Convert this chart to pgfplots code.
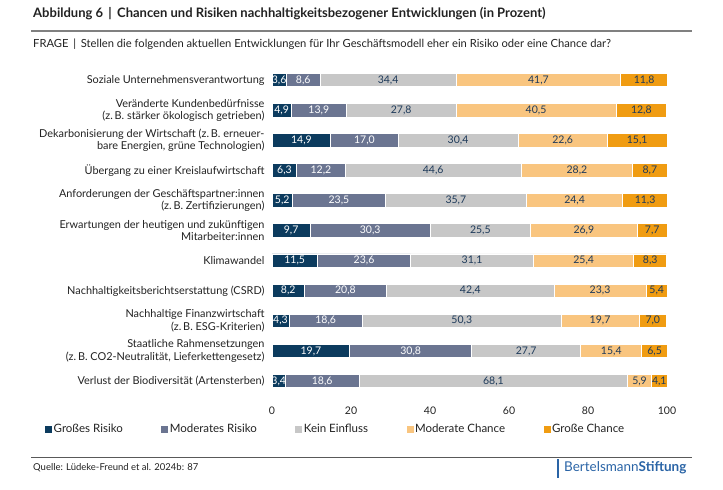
\documentclass[border=0pt]{standalone}
\usepackage{pgfplots}
\pgfplotsset{compat=1.18}
\usepackage{pgfplotstable}
\usepackage{fontspec}
\setmainfont{Lato}
\definecolor{cNavy}{HTML}{0C3B5E}
\definecolor{cSlate}{HTML}{6B7591}
\definecolor{cGray}{HTML}{C7C7C7}
\definecolor{cLOr}{HTML}{F9C57F}
\definecolor{cOr}{HTML}{F09C12}
\definecolor{cTxt}{HTML}{1E3A5A}
\definecolor{cLogo}{HTML}{2A64A6}
\definecolor{cDark}{HTML}{222222}
\pgfplotstableread{
idx gr mr ke mc gc
0 3.6 8.6 34.4 41.7 11.8
1 4.9 13.9 27.8 40.5 12.8
2 14.9 17.0 30.4 22.6 15.1
3 6.3 12.2 44.6 28.2 8.7
4 5.2 23.5 35.7 24.4 11.3
5 9.7 30.3 25.5 26.9 7.7
6 11.5 23.6 31.1 25.4 8.3
7 8.2 20.8 42.4 23.3 5.4
8 4.3 18.6 50.3 19.7 7.0
9 19.7 30.8 27.7 15.4 6.5
10 3.4 18.6 68.1 5.9 4.1
}\data
\pgfplotstablecreatecol[create col/expr={\thisrow{gr}/2}]{grm}\data
\pgfplotstablecreatecol[create col/expr={\thisrow{gr}+\thisrow{mr}/2}]{mrm}\data
\pgfplotstablecreatecol[create col/expr={\thisrow{gr}+\thisrow{mr}+\thisrow{ke}/2}]{kem}\data
\pgfplotstablecreatecol[create col/expr={\thisrow{gr}+\thisrow{mr}+\thisrow{ke}+\thisrow{mc}/2}]{mcm}\data
\pgfplotstablecreatecol[create col/expr={\thisrow{gr}+\thisrow{mr}+\thisrow{ke}+\thisrow{mc}+\thisrow{gc}/2}]{gcm}\data
\pgfplotsset{
  common/.style={
    at={(272pt,-62pt)}, anchor=north west,
    x=3.95pt, y=30.1pt, y dir=reverse,
    xmin=0, xmax=100, ymin=-0.6, ymax=10.6, clip=false,
    /pgf/number format/assume math mode=true},
  lbl/.style={draw=none, mark=none, point meta=explicit,
    nodes near coords={\pgfmathprintnumber[use comma,fixed,fixed zerofill,precision=1,assume math mode=true]{\pgfplotspointmeta}},
    every node near coord/.append style={anchor=center, inner sep=0pt, font=\fontsize{10.5}{12}\selectfont, text=#1}},
}
\begin{document}
\begin{tikzpicture}
\path[use as bounding box] (0pt,0pt) rectangle (723pt,-490pt);
\node[anchor=west, inner sep=0pt, text=cDark, font=\bfseries\fontsize{13}{15}\selectfont] at (33pt,-14pt) {Abbildung 6 \,|\, Chancen und Risiken nachhaltigkeitsbezogener Entwicklungen (in Prozent)};
\draw[line width=2pt, color=black!50] (31pt,-31pt) -- (692pt,-31pt);
\node[anchor=west, inner sep=0pt, text=cDark, font=\fontsize{11.2}{12.5}\selectfont] at (33pt,-44pt) {FRAGE \,|\, Stellen die folgenden aktuellen Entwicklungen für Ihr Geschäftsmodell eher ein Risiko oder eine Chance dar?};
\draw[line width=1pt, color=black!65] (31pt,-457pt) -- (692pt,-457pt);
\node[anchor=west, inner sep=0pt, text=cDark, font=\fontsize{9.5}{11}\selectfont] at (33pt,-468pt) {Quelle: Lüdeke-Freund et al. 2024b: 87};
\draw[line width=1.2pt, color=cLogo] (558pt,-459pt) -- (558pt,-478pt);
\node[anchor=west, inner sep=0pt, text=cLogo, font=\fontsize{13.5}{15}\selectfont] at (564pt,-468pt) {Bertelsmann\textbf{Stiftung}};
\begin{axis}[
  common,
  xbar stacked, bar width=13.5pt,
  axis line style={draw=none}, major tick length=0pt,
  xtick={0,20,40,60,80,100},
  ytick={0,1,2,3,4,5,6,7,8,9,10},
  yticklabels={
    Soziale Unternehmensverantwortung,
    {Veränderte Kundenbedürfnisse\\(z.\,B. stärker ökologisch getrieben)},
    {Dekarbonisierung der Wirtschaft (z.\,B. erneuer-\\bare Energien, grüne Technologien)},
    Übergang zu einer Kreislaufwirtschaft,
    {Anforderungen der Geschäftspartner:innen\\(z.\,B. Zertifizierungen)},
    {Erwartungen der heutigen und zukünftigen\\Mitarbeiter:innen},
    Klimawandel,
    Nachhaltigkeitsberichtserstattung (CSRD),
    {Nachhaltige Finanzwirtschaft\\(z.\,B. ESG-Kriterien)},
    {Staatliche Rahmensetzungen\\(z.\,B. CO2-Neutralität, Lieferkettengesetz)},
    Verlust der Biodiversität (Artensterben)},
  yticklabel style={align=right, text=cDark, font=\fontsize{10.9}{12.2}\selectfont, xshift=-4pt},
  xticklabel style={text=cDark, font=\fontsize{10.5}{12}\selectfont, yshift=-4pt},
  legend columns=5,
  legend style={at={(-0.5823,-0.089)}, anchor=west, draw=none, fill=none, font=\fontsize{11.5}{12}\selectfont, text=cDark,
    nodes={inner sep=1.5pt},
    /tikz/every even column/.append style={column sep=37pt}},
  legend cell align=left,
  legend image code/.code={\fill[#1,draw=none] (0pt,-3.5pt) rectangle (7pt,3.5pt);},
]
\addplot[fill=cNavy, draw=white, line width=0.8pt] table[x=gr, y=idx] {\data};
\addplot[fill=cSlate, draw=white, line width=0.8pt] table[x=mr, y=idx] {\data};
\addplot[fill=cGray, draw=white, line width=0.8pt] table[x=ke, y=idx] {\data};
\addplot[fill=cLOr, draw=white, line width=0.8pt] table[x=mc, y=idx] {\data};
\addplot[fill=cOr, draw=white, line width=0.8pt] table[x=gc, y=idx] {\data};
\legend{Großes Risiko, Moderates Risiko, Kein Einfluss, Moderate Chance, Große Chance}
\end{axis}
\begin{axis}[common, hide axis]
\addplot[lbl=white] table[x=grm, y=idx, meta=gr] {\data};
\addplot[lbl=white] table[x=mrm, y=idx, meta=mr] {\data};
\addplot[lbl=cTxt] table[x=kem, y=idx, meta=ke] {\data};
\addplot[lbl=cTxt] table[x=mcm, y=idx, meta=mc] {\data};
\addplot[lbl=cTxt] table[x=gcm, y=idx, meta=gc] {\data};
\end{axis}
\end{tikzpicture}
\end{document}
